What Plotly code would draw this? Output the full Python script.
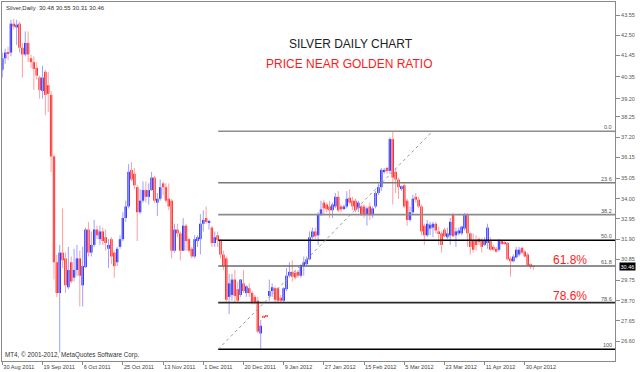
import plotly.graph_objects as go

# ---------------- data ----------------
opens = [40.7, 41.3, 41.6, 41.6, 43.1, 42.9, 43.1, 41.85, 41.5, 42.1,
         41.3, 41.1, 40.8, 40.3, 39.6, 40.6, 39.9, 39.4, 36.2, 30.7,
         29.1, 31.2, 30.9, 29.4, 30.7, 29.9, 30.3, 30.9, 29.5, 30.45,
         32.4, 31.2, 31.6, 32.4, 31.9, 32.3, 32.0, 31.4, 31.9, 31.2,
         30.7, 31.5, 31.9, 33.0, 33.6, 35.5, 35.3, 34.6, 33.3, 33.9,
         34.45, 34.1, 34.45, 35.1, 33.8, 34.0, 34.8, 34.6, 34.0, 33.9,
         31.3, 32.4, 32.2, 31.3, 32.6, 31.9, 31.4, 31.0, 31.8, 31.9,
         32.7, 33.0, 32.75, 32.5, 31.7, 32.1, 31.85, 31.1, 30.9, 28.9,
         29.0, 29.8, 29.3, 29.0, 29.6, 29.1, 29.35, 29.1, 28.9, 28.7,
         27.0, 27.9, 27.9, 28.95, 29.2, 29.35, 29.35, 28.85, 28.7, 29.3,
         30.0, 30.2, 30.15, 30.2, 30.0, 30.5, 30.6, 30.85, 32.0, 32.3,
         32.1, 33.2, 33.8, 33.7, 33.6, 33.4, 33.6, 34.1, 33.6, 33.5,
         33.6, 34.05, 33.9, 33.9, 33.5, 33.6, 33.6, 33.2, 33.6, 33.15,
         33.6, 34.3, 34.6, 35.4, 35.6, 35.45, 37.1, 35.4, 35.0, 34.55,
         34.7, 33.9, 32.9, 33.3, 34.1, 33.95, 33.6, 32.6, 32.1, 32.45,
         32.5, 32.7, 32.3, 32.2, 32.4, 32.0, 32.1, 33.2, 32.1, 32.2,
         32.2, 32.45, 33.2, 32.2, 31.8, 31.85, 31.9, 31.85, 31.6, 31.7,
         31.8, 31.5, 31.4, 31.35, 31.8, 31.75, 31.7, 30.9, 30.75, 30.95,
         31.1, 31.45, 31.25, 31.1, 30.6, 30.48]
highs = [41.6, 41.8, 41.9, 43.3, 43.35, 43.3, 43.2, 42.1, 42.7, 42.7,
         41.5, 41.4, 41.1, 40.4, 40.9, 40.7, 40.6, 39.6, 36.3, 31.1,
         31.6, 33.5, 31.2, 31.5, 31.0, 31.4, 31.6, 31.3, 31.5, 32.5,
         32.8, 32.3, 32.9, 32.6, 32.6, 32.5, 32.4, 31.9, 32.0, 31.3,
         31.5, 32.1, 33.3, 33.9, 35.8, 35.9, 35.6, 34.7, 34.5, 34.9,
         34.9, 34.8, 35.4, 35.2, 34.3, 35.0, 34.85, 34.8, 34.8, 34.0,
         32.7, 32.7, 32.3, 33.0, 32.7, 31.95, 31.5, 32.1, 32.1, 33.2,
         33.4, 33.6, 32.9, 32.6, 32.3, 32.3, 31.9, 31.3, 31.0, 30.1,
         30.1, 30.3, 29.7, 29.8, 30.3, 29.5, 29.6, 29.2, 29.0, 28.9,
         27.7, 27.95, 27.95, 29.8, 29.6, 29.45, 29.4, 29.0, 29.4, 30.4,
         30.7, 30.8, 30.3, 30.3, 30.6, 31.0, 31.0, 32.3, 32.5, 32.5,
         33.3, 33.9, 33.95, 33.8, 33.9, 33.8, 34.3, 34.4, 33.7, 33.7,
         34.4, 34.5, 34.1, 34.0, 33.9, 33.7, 33.7, 33.6, 33.8, 33.6,
         34.4, 34.8, 35.6, 35.6, 35.65, 37.2, 37.5, 35.6, 35.1, 34.7,
         34.8, 34.0, 33.6, 34.2, 34.3, 34.1, 33.7, 32.7, 32.9, 32.8,
         32.8, 32.8, 32.55, 32.3, 32.5, 32.5, 33.0, 33.25, 32.5, 32.5,
         32.6, 33.25, 33.25, 32.25, 32.2, 32.1, 32.0, 31.95, 32.0, 32.7,
         32.0, 31.6, 31.5, 31.9, 31.85, 31.8, 31.75, 31.0, 31.1, 31.5,
         31.5, 31.5, 31.35, 31.2, 30.65, 30.55]
lows = [40.3, 41.0, 41.2, 41.4, 42.8, 42.0, 41.6, 40.3, 41.4, 41.1,
        40.8, 39.65, 40.2, 39.2, 39.2, 38.35, 38.5, 35.4, 29.8, 28.9,
        26.0, 30.4, 29.1, 29.3, 29.6, 29.7, 30.0, 28.4, 28.4, 30.4,
        31.0, 31.0, 31.5, 31.9, 31.6, 31.6, 31.3, 30.4, 30.6, 29.9,
        30.5, 31.4, 31.8, 32.8, 33.5, 34.9, 34.5, 31.8, 33.2, 33.8,
        33.8, 33.7, 34.4, 33.8, 33.1, 33.9, 34.2, 33.8, 33.4, 30.9,
        31.2, 32.0, 30.8, 31.3, 31.3, 31.2, 30.9, 30.9, 31.5, 31.1,
        32.3, 32.7, 32.4, 31.5, 31.5, 31.5, 30.9, 30.3, 28.6, 28.0,
        28.7, 28.6, 28.6, 28.9, 29.1, 28.9, 28.9, 28.5, 28.5, 27.0,
        26.15, 27.8, 27.85, 28.7, 28.9, 28.6, 28.6, 28.6, 28.6, 29.2,
        29.9, 29.7, 29.8, 29.9, 29.9, 30.0, 30.5, 30.8, 31.9, 31.9,
        31.6, 33.1, 33.2, 33.3, 33.0, 33.0, 33.5, 33.3, 33.3, 33.4,
        33.5, 33.7, 33.4, 33.3, 33.3, 33.1, 33.0, 32.6, 32.9, 33.0,
        33.5, 34.2, 34.4, 35.3, 35.3, 35.3, 33.7, 34.3, 34.0, 34.4,
        33.5, 32.6, 32.8, 33.2, 33.8, 33.5, 32.1, 31.6, 32.0, 32.1,
        32.0, 32.2, 31.6, 31.2, 32.0, 31.9, 31.6, 32.0, 31.5, 32.1,
        32.1, 32.35, 31.5, 31.1, 31.2, 31.3, 31.6, 31.2, 31.55, 31.4,
        31.3, 31.3, 31.2, 31.25, 31.6, 31.6, 30.8, 29.95, 30.7, 30.9,
        31.0, 31.1, 30.95, 30.5, 30.35, 30.31]
closes = [41.3, 41.6, 41.55, 43.1, 42.95, 43.05, 41.85, 41.5, 42.1, 41.5,
          41.1, 40.75, 40.4, 39.65, 40.3, 39.4, 39.45, 36.2, 30.7, 29.1,
          31.2, 30.8, 29.5, 30.3, 29.7, 30.3, 30.9, 30.0, 30.5, 32.4,
          31.2, 31.6, 32.4, 32.1, 32.3, 31.8, 31.7, 31.6, 31.0, 30.5,
          31.4, 31.9, 33.0, 33.6, 35.4, 35.0, 34.7, 33.3, 33.9, 34.45,
          34.1, 34.45, 35.1, 33.9, 34.0, 34.6, 34.6, 33.9, 33.6, 31.3,
          32.4, 32.2, 31.3, 32.6, 31.8, 31.3, 31.0, 31.9, 32.0, 32.7,
          32.9, 32.8, 32.85, 31.7, 32.0, 31.85, 31.1, 30.5, 28.75, 29.6,
          29.8, 28.95, 28.7, 29.8, 29.2, 29.45, 29.1, 28.6, 28.6, 27.1,
          27.4, 27.85, 27.9, 29.2, 29.4, 28.75, 28.7, 28.7, 29.35, 30.0,
          30.2, 29.95, 29.9, 30.0, 30.55, 30.7, 30.85, 32.0, 32.3, 32.05,
          33.2, 33.45, 33.5, 33.45, 33.4, 33.7, 34.1, 33.4, 33.45, 33.6,
          34.0, 33.8, 33.6, 33.4, 33.8, 33.2, 33.15, 33.5, 33.15, 33.5,
          34.3, 34.6, 35.5, 35.5, 35.45, 37.1, 35.1, 35.0, 34.6, 34.65,
          33.6, 32.9, 33.3, 34.0, 33.95, 33.6, 32.3, 32.1, 32.7, 32.65,
          32.7, 32.35, 32.2, 31.6, 32.05, 32.2, 32.8, 32.05, 32.3, 32.35,
          32.55, 33.15, 32.2, 31.5, 31.35, 31.6, 31.75, 31.5, 31.85, 32.5,
          31.35, 31.35, 31.25, 31.8, 31.65, 31.65, 30.85, 30.75, 31.0, 31.35,
          31.35, 31.2, 31.0, 30.55, 30.45, 30.46]
bar_index = list(range(len(closes)))

y_tick_values = [43.55, 42.50, 41.45, 40.35, 39.20, 38.25, 37.20, 36.15, 35.05,
                 34.00, 32.95, 31.90, 30.85, 29.75, 28.70, 27.65, 26.60, 25.55]
x_tick_bars = [0, 14, 28, 42, 56, 70, 84, 98, 112, 126, 140, 154, 168, 182]
x_tick_labels = ["30 Aug 2011", "19 Sep 2011", "6 Oct 2011", "25 Oct 2011",
                 "13 Nov 2011", "1 Dec 2011", "20 Dec 2011", "9 Jan 2012",
                 "27 Jan 2012", "15 Feb 2012", "5 Mar 2012", "23 Mar 2012",
                 "11 Apr 2012", "30 Apr 2012"]

fib_anchor_bars = [75.2, 149.8]
fib_anchor_prices = [26.175, 37.505]
fib_levels = [0.0, 23.6, 38.2, 50.0, 61.8, 78.6, 100.0]
fib_level_labels = ["0.0", "23.6", "38.2", "50.0", "61.8", "78.6", "100"]
fib_level_colors = ["#8c8c8c", "#7a7a7a", "#8c8c8c", "#000000", "#6a6a6a", "#2a2a2a", "#000000"]

symbol_name = "Silver,Daily"
chart_title = "SILVER DAILY CHART"
chart_subtitle = "PRICE NEAR GOLDEN RATIO"
copyright_text = "MT4, \u00a9 2001-2012, MetaQuotes Software Corp."

# ---------------- layout constants ----------------
X_MIN, X_MAX = -0.1, 213.4
Y_MIN, Y_MAX = 25.567, 44.226
FONT = "Liberation Sans"

fig = go.Figure()

# wicks
bull_x, bull_y, bear_x, bear_y = [], [], [], []
for i, o, h, l, c in zip(bar_index, opens, highs, lows, closes):
    if c > o:
        bull_x += [i, i, None]
        bull_y += [l, h, None]
    else:
        bear_x += [i, i, None]
        bear_y += [l, h, None]
fig.add_trace(go.Scatter(x=bull_x, y=bull_y, mode="lines",
                         line=dict(color="#9f9fff", width=1), hoverinfo="skip"))
fig.add_trace(go.Scatter(x=bear_x, y=bear_y, mode="lines",
                         line=dict(color="#ff9f9f", width=1), hoverinfo="skip"))

# bodies
bases = [min(o, c) for o, c in zip(opens, closes)]
heights = [max(abs(c - o), 0.04) for o, c in zip(opens, closes)]
colors = ["#0000ff" if c > o else "#ff0000" for o, c in zip(opens, closes)]
fig.add_trace(go.Bar(x=bar_index, y=heights, base=bases, width=0.82,
                     marker=dict(color=colors, line=dict(width=0)), hoverinfo="skip"))

# fibonacci levels
hi, lo = fib_anchor_prices[1], fib_anchor_prices[0]
annotations = []
for lvl, lab, col in zip(fib_levels, fib_level_labels, fib_level_colors):
    p = hi - (hi - lo) * lvl / 100.0
    fig.add_trace(go.Scatter(x=[fib_anchor_bars[0], X_MAX], y=[p, p], mode="lines",
                             line=dict(color=col, width=1.6), hoverinfo="skip"))
    annotations.append(dict(x=X_MAX, y=p, xref="x", yref="y", text=lab,
                            xanchor="right", yanchor="bottom", showarrow=False,
                            xshift=-1, yshift=-1,
                            font=dict(family=FONT, size=5.5, color="#555555")))

# diagonal trend line of the fib tool
fig.add_trace(go.Scatter(x=fib_anchor_bars, y=fib_anchor_prices, mode="lines",
                         line=dict(color="#9a9a9a", width=1, dash="dot"), hoverinfo="skip"))

# texts
header = "%s  %.2f %.2f %.2f %.2f" % (symbol_name, opens[-1], highs[-1], lows[-1], closes[-1])
centered = dict(xref="paper", yref="paper", showarrow=False, xanchor="center", yanchor="middle")
annotations += [
    dict(x=0, y=1, xref="paper", yref="paper", text=header, xanchor="left", yanchor="top",
         xshift=2, yshift=-1, showarrow=False, font=dict(family=FONT, size=6, color="#333333")),
    dict(x=0, y=0, xref="paper", yref="paper", text=copyright_text, xanchor="left",
         yanchor="bottom", xshift=1, yshift=0, showarrow=False,
         font=dict(family=FONT, size=6.3, color="#333333")),
    dict(x=0.5698, y=0.883, text=chart_title,
         font=dict(family=FONT, size=12, color="#222222"), **centered),
    dict(x=0.5657, y=0.8265, text=chart_subtitle,
         font=dict(family=FONT, size=12, color="#ff1a1a"), **centered),
    dict(x=0.926, y=0.2813, text="61.8%",
         font=dict(family=FONT, size=12, color="#ff1a1a"), **centered),
    dict(x=0.9266, y=0.181, text="78.6%",
         font=dict(family=FONT, size=12, color="#ff1a1a"), **centered),
    dict(x=1, y=closes[-1], xref="paper", yref="y", text="%.2f" % closes[-1],
         xanchor="left", yanchor="middle", showarrow=False, xshift=4, bgcolor="#000000",
         borderpad=0.5, font=dict(family=FONT, size=5.5, color="#ffffff")),
]

fig.update_layout(
    width=640, height=372,
    margin=dict(l=2, r=25, t=2, b=11),
    paper_bgcolor="white", plot_bgcolor="white",
    showlegend=False, barmode="overlay",
    annotations=annotations,
    xaxis=dict(range=[X_MIN, X_MAX], showgrid=False, zeroline=False,
               showline=True, mirror=True, linecolor="#8a8a8a", linewidth=1,
               ticks="outside", ticklen=3, tickcolor="#8a8a8a",
               tickvals=x_tick_bars, ticktext=x_tick_labels,
               ticklabelposition="outside right",
               tickfont=dict(family=FONT, size=5.6, color="#444444")),
    yaxis=dict(range=[Y_MIN, Y_MAX], side="right", showgrid=False, zeroline=False,
               showline=True, mirror=True, linecolor="#8a8a8a", linewidth=1,
               ticks="outside", ticklen=4, tickcolor="#8a8a8a",
               tickvals=y_tick_values, ticktext=["%.2f" % v for v in y_tick_values],
               tickfont=dict(family=FONT, size=5.5, color="#555555")),
)

fig.write_html("out.html", config={"displayModeBar": False},
               post_script="document.body.style.margin='0';")
